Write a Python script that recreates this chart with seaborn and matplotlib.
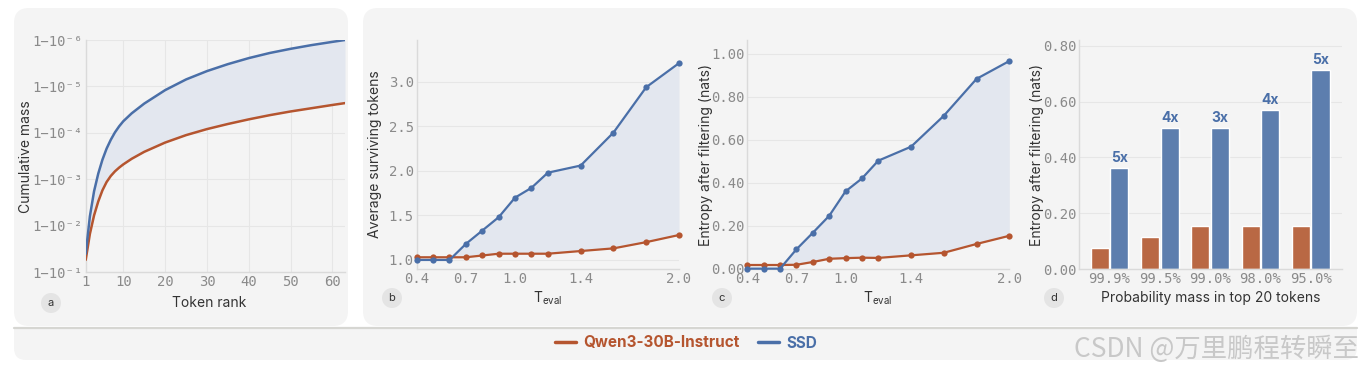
import matplotlib
matplotlib.use('Agg')
import matplotlib.pyplot as plt
import pandas as pd
import seaborn as sns
from matplotlib.patches import FancyBboxPatch, Circle, Rectangle
from matplotlib.lines import Line2D

# panel a: cumulative mass = 1 - 10**(-decades), read at these token ranks
ranks = [1, 2, 3, 4, 5, 6, 7, 8, 9, 10, 12, 15, 20, 25, 30, 35, 40, 45, 50, 55, 60, 63]
ssd_decades = [1.39, 2.20, 2.74, 3.12, 3.42, 3.66, 3.85, 4.01, 4.14, 4.25, 4.42, 4.63,
               4.92, 5.15, 5.33, 5.48, 5.61, 5.72, 5.81, 5.89, 5.96, 6.00]
qwen_decades = [1.26, 1.82, 2.22, 2.52, 2.76, 2.94, 3.07, 3.17, 3.25, 3.32, 3.44, 3.59,
                3.79, 3.95, 4.08, 4.19, 4.29, 4.38, 4.46, 4.53, 4.60, 4.64]

# panels b and c: sweep over evaluation temperature
temps = [0.4, 0.5, 0.6, 0.7, 0.8, 0.9, 1.0, 1.1, 1.2, 1.4, 1.6, 1.8, 2.0]
qwen_surviving = [1.03, 1.03, 1.03, 1.03, 1.05, 1.07, 1.07, 1.07, 1.07, 1.10, 1.13, 1.20, 1.28]
ssd_surviving = [1.00, 1.00, 1.00, 1.18, 1.33, 1.48, 1.70, 1.81, 1.98, 2.06, 2.43, 2.94, 3.21]
qwen_entropy_t = [0.017, 0.017, 0.017, 0.018, 0.031, 0.046, 0.049, 0.051, 0.050, 0.062, 0.074, 0.115, 0.153]
ssd_entropy_t = [0.0, 0.0, 0.0, 0.090, 0.167, 0.246, 0.360, 0.420, 0.503, 0.568, 0.712, 0.884, 0.967]

# panel d: entropy at different top-20 probability mass levels
mass_labels = ['99.9%', '99.5%', '99.0%', '98.0%', '95.0%']
qwen_entropy_m = [0.076, 0.116, 0.155, 0.155, 0.155]
ssd_entropy_m = [0.362, 0.506, 0.506, 0.570, 0.713]
ratio_labels = ['5x', '4x', '3x', '4x', '5x']

models = ['Qwen3-30B-Instruct', 'SSD']
line_colors = {'Qwen3-30B-Instruct': '#b5552f', 'SSD': '#4a6fa8'}
bar_colors = {'Qwen3-30B-Instruct': '#b96844', 'SSD': '#5d7eae'}
FILL = '#e3e7ef'
CARD = '#f4f4f4'
TICK = '#8a8a8a'
LABEL = '#333333'
MONO = 'DejaVu Sans Mono'

sns.set_theme(style='white')
plt.rcParams['font.family'] = ['Inter', 'DejaVu Sans']

W, H = 1362, 373
fig = plt.figure(figsize=(W / 100, H / 100), dpi=100)
fig.patch.set_facecolor('white')

# background layer in pixel units
bg = fig.add_axes([0, 0, 1, 1], zorder=-10)
bg.set_xlim(0, W)
bg.set_ylim(H, 0)
bg.axis('off')
for x0, x1 in [(14, 348), (363, 1357)]:
    bg.add_patch(FancyBboxPatch((x0, 8), x1 - x0, 318, boxstyle='round,pad=0,rounding_size=15',
                                fc=CARD, ec='none'))
bg.add_patch(FancyBboxPatch((14, 327), 1343, 33, boxstyle='round,pad=0,rounding_size=12',
                            fc=CARD, ec='none'))
bg.add_patch(Rectangle((14, 327), 1343, 14, fc=CARD, ec='none'))
bg.plot([14, 1357], [327.5, 327.5], color='#d6d6d2', lw=1.6)
for letter, (cx, cy) in zip('abcd', [(51, 303), (392, 298), (722, 298), (1054, 298)]):
    bg.add_patch(Circle((cx, cy), 10, fc='#e4e4e4', ec='none'))
    bg.text(cx, cy, letter, ha='center', va='center', fontsize=8, color=LABEL)
bg.text(1359, 349, 'CSDN @万里鹏程转瞬至', ha='right', va='center', fontsize=19,
        color='#c8c8c8', family=['Noto Sans CJK SC', 'DejaVu Sans'])


def axes_px(l, t, r, b):
    ax = fig.add_axes([l / W, 1 - b / H, (r - l) / W, (b - t) / H])
    ax.set_facecolor('none')
    for s in ['top', 'right']:
        ax.spines[s].set_visible(False)
    for s in ['left', 'bottom']:
        ax.spines[s].set_color('#dadada')
        ax.spines[s].set_linewidth(1)
    ax.tick_params(length=0, labelsize=10, labelcolor=TICK, pad=2)
    ax.grid(False)
    return ax, (l, t, r, b)


def style_ticks(ax):
    for lab in ax.get_xticklabels() + ax.get_yticklabels():
        lab.set_family(MONO)


def place_labels(ax, box, xlabel, xpos, ylabel, ypos):
    l, t, r, b = box
    ax.set_xlabel(xlabel, fontsize=10, color=LABEL)
    ax.set_ylabel(ylabel, fontsize=10, color=LABEL)
    ax.xaxis.set_label_coords((xpos[0] - l) / (r - l), (b - xpos[1]) / (b - t))
    ax.yaxis.set_label_coords((ypos[0] - l) / (r - l), (b - ypos[1]) / (b - t))
    ax.xaxis.label.set_va('center')
    ax.yaxis.label.set_va('center')


# ---- panel a
ax, box = axes_px(85.7, 40, 345, 272)
df_a = pd.DataFrame({'rank': ranks * 2,
                     'tail': [10 ** -d for d in qwen_decades] + [10 ** -d for d in ssd_decades],
                     'model': [models[0]] * len(ranks) + [models[1]] * len(ranks)})
ax.set_yscale('log')
ax.fill_between(ranks, [10 ** -d for d in qwen_decades], [10 ** -d for d in ssd_decades],
                color=FILL, lw=0, zorder=1)
sns.lineplot(data=df_a, x='rank', y='tail', hue='model', palette=line_colors,
             linewidth=1.8, legend=False, ax=ax, zorder=3)
ax.set_xlim(1, 63)
ax.set_ylim(1e-1, 1e-6)
ax.set_xticks([1, 10, 20, 30, 40, 50, 60])
ax.set_yticks([10 ** -k for k in range(1, 7)])
sup = str.maketrans('0123456789', '⁰¹²³⁴⁵⁶⁷⁸⁹')
ax.set_yticklabels(['1−10⁻' + str(k).translate(sup) for k in range(1, 7)])
ax.minorticks_off()
ax.grid(True, color='#e6e6e6', lw=0.8)
ax.set_axisbelow(True)
style_ticks(ax)
place_labels(ax, box, 'Token rank', (209, 303), 'Cumulative mass', (26, 157))

# ---- panels b and c
temp_panels = [
    ((416.7, 40, 679, 269.3), qwen_surviving, ssd_surviving, (0.895, 3.47),
     [1.0, 1.5, 2.0, 2.5, 3.0], '{:.1f}', 'Average surviving tokens', (375, 154), (548, 298)),
    ((747.3, 40, 1009.3, 269.3), qwen_entropy_t, ssd_entropy_t, (-0.003, 1.065),
     [0.0, 0.2, 0.4, 0.6, 0.8, 1.0], '{:.2f}', 'Entropy after filtering (nats)', (706, 155), (878, 298)),
]
for pos, qv, sv, ylim, yt, fmt, ylab, ypos, xpos in temp_panels:
    ax, box = axes_px(*pos)
    df = pd.DataFrame({'T': temps * 2, 'v': qv + sv,
                       'model': [models[0]] * len(temps) + [models[1]] * len(temps)})
    ax.fill_between(temps, qv, sv, where=[s >= q for q, s in zip(qv, sv)], interpolate=True,
                    color=FILL, lw=0, zorder=1)
    sns.lineplot(data=df, x='T', y='v', hue='model', palette=line_colors, marker='o',
                 markersize=4.5, markeredgewidth=0, linewidth=1.6, legend=False, ax=ax, zorder=3)
    for ln in ax.lines:
        ln.set_clip_on(False)
    ax.set_xlim(0.4, 2.0)
    ax.set_ylim(*ylim)
    ax.set_xticks([0.4, 0.7, 1.0, 1.4, 2.0])
    ax.set_xticklabels(['0.4', '0.7', '1.0', '1.4', '2.0'])
    ax.set_yticks(yt)
    ax.set_yticklabels([fmt.format(v) for v in yt])
    ax.yaxis.grid(True, color='#e6e6e6', lw=0.8)
    ax.set_axisbelow(True)
    style_ticks(ax)
    place_labels(ax, box, 'T$_{\\mathregular{eval}}$', xpos, ylab, ypos)

# ---- panel d
ax, box = axes_px(1079.3, 40, 1342, 269.3)
df_d = pd.DataFrame({'mass': mass_labels * 2, 'entropy': qwen_entropy_m + ssd_entropy_m,
                     'model': [models[0]] * 5 + [models[1]] * 5})
sns.barplot(data=df_d, x='mass', y='entropy', hue='model', palette=bar_colors, saturation=1,
            width=0.78, gap=0.07, legend=False, ax=ax, zorder=2)
ax.set_xlim(-0.6, 4.62)
ax.set_ylim(0, 0.82)
ax.set_yticks([0.0, 0.2, 0.4, 0.6, 0.8])
ax.set_yticklabels(['0.00', '0.20', '0.40', '0.60', '0.80'])
ax.yaxis.grid(True, color='#e6e6e6', lw=0.8)
ax.set_axisbelow(True)
ax.bar_label(ax.containers[1], labels=ratio_labels, padding=2, fontsize=10,
             fontweight='bold', color='#4a6fa8')
style_ticks(ax)
place_labels(ax, box, 'Probability mass in top 20 tokens', (1211, 298),
             'Entropy after filtering (nats)', (1037, 155))

# ---- legend
handles = [Line2D([], [], color=line_colors[m], lw=2.5) for m in models]
leg = fig.legend(handles, models, loc='center', bbox_to_anchor=(686 / W, 1 - 343 / H), ncol=2,
                 frameon=False, handlelength=1.37, handletextpad=0.46, columnspacing=1.25,
                 prop={'weight': 'bold', 'size': 11})
for txt, m in zip(leg.get_texts(), models):
    txt.set_color(line_colors[m])

fig.savefig('out.png', dpi=100, facecolor='white')
